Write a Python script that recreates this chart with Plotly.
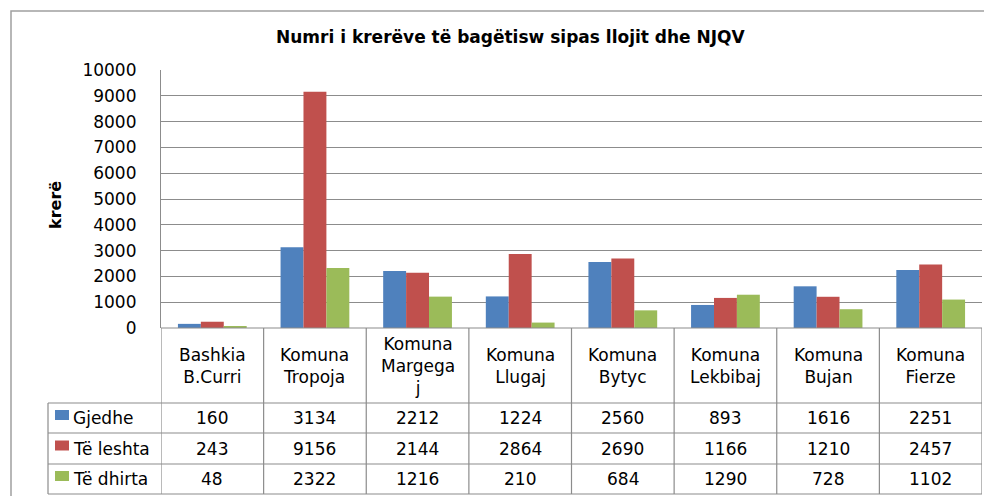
import plotly.graph_objects as go

categories = ["Bashkia<br>B.Curri", "Komuna<br>Tropoja", "Komuna<br>Margega<br>j", "Komuna<br>Llugaj",
              "Komuna<br>Bytyc", "Komuna<br>Lekbibaj", "Komuna<br>Bujan", "Komuna<br>Fierze"]
series_names = ["Gjedhe", "Të leshta", "Të dhirta"]
gjedhe = [160, 3134, 2212, 1224, 2560, 893, 1616, 2251]
te_leshta = [243, 9156, 2144, 2864, 2690, 1166, 1210, 2457]
te_dhirta = [48, 2322, 1216, 210, 684, 1290, 728, 1102]
colors = ["#4F81BD", "#C0504D", "#9BBB59"]
y_ticks = [0, 1000, 2000, 3000, 4000, 5000, 6000, 7000, 8000, 9000, 10000]

OFF = 8  # page body margin
W, H = 992 - OFF, 496 - OFF
L, R, T, B = 161, 982, 70, 328  # plot area in page px

def px(x):
    return (x - L) / (R - L)

def py(y):
    return (B - y) / (B - T)

fig = go.Figure()
series = [gjedhe, te_leshta, te_dhirta]
xs = list(range(len(categories)))
for name, vals, col in zip(series_names, series, colors):
    fig.add_trace(go.Bar(x=xs, y=vals, name=name, marker=dict(color=col, line=dict(width=0)),
                         showlegend=False))

fnt = "DejaVu Sans"
FS = 17
shapes = []
ann = []
gray = "#8C8C8C"
# outer frame
shapes.append(dict(type="rect", xref="paper", yref="paper", x0=px(11), x1=px(1100), y0=py(11), y1=py(600),
                   line=dict(color="#A0A0A0", width=1.5), layer="below"))

rows_y = [328, 403, 433, 464, 494]
n = len(categories)
for i, yy in enumerate(rows_y):
    shapes.append(dict(type="line", xref="paper", yref="paper",
                       x0=px(48) if i >= 1 else 0, x1=1, y0=py(yy), y1=py(yy),
                       line=dict(color=gray, width=1.2)))
for k in range(n + 1):
    shapes.append(dict(type="line", xref="x", yref="paper", x0=k - 0.5, x1=k - 0.5,
                       y0=py(328), y1=py(494), line=dict(color=gray, width=1.2)))
shapes.append(dict(type="line", xref="paper", yref="paper", x0=px(48), x1=px(48),
                   y0=py(403), y1=py(494), line=dict(color=gray, width=1.2)))

for k, c in enumerate(categories):
    ann.append(dict(x=k, y=py(366), xref="x", yref="paper", text=c, showarrow=False,
                    font=dict(family=fnt, size=FS, color="#000"), align="center", yanchor="middle"))
for r, (name, vals, col) in enumerate(zip(series_names, series, colors)):
    yc = (rows_y[r + 1] + rows_y[r + 2]) / 2
    shapes.append(dict(type="rect", xref="paper", yref="paper", x0=px(55), x1=px(69),
                       y0=py(yc - 8), y1=py(yc + 2), fillcolor=col, line=dict(width=0)))
    ann.append(dict(x=px(71), y=py(yc), xref="paper", yref="paper", text=name, showarrow=False,
                    xanchor="left", yanchor="middle", font=dict(family=fnt, size=FS, color="#000")))
    for k, v in enumerate(vals):
        ann.append(dict(x=k, y=py(yc), xref="x", yref="paper", text=str(v), showarrow=False,
                        yanchor="middle", font=dict(family=fnt, size=FS, color="#000")))

ann.append(dict(x=px(511), y=py(37), xref="paper", yref="paper",
                text="<b>Numri i krerëve të bagëtisw sipas llojit dhe NJQV</b>", showarrow=False,
                xanchor="center", yanchor="middle", font=dict(family="DejaVu Sans", size=17, color="#000")))
ann.append(dict(x=px(55), y=py(205), xref="paper", yref="paper", text="<b>krerë</b>", textangle=-90,
                showarrow=False, xanchor="center", yanchor="middle",
                font=dict(family="DejaVu Sans", size=16, color="#000")))

fig.update_layout(
    width=W, height=H,
    margin=dict(l=L - OFF, r=W - (R - OFF), t=T - OFF, b=H - (B - OFF), pad=0),
    paper_bgcolor="white", plot_bgcolor="white",
    barmode="group", bargap=0.33, bargroupgap=0,
    xaxis=dict(range=[-0.5, n - 0.5], showticklabels=False, showgrid=False, zeroline=False,
               showline=False, ticks="", fixedrange=True),
    yaxis=dict(range=[0, 10000], tickvals=y_ticks, ticktext=[str(t) for t in y_ticks],
               showgrid=True, gridcolor=gray, gridwidth=1, zeroline=False,
               showline=True, linecolor=gray, linewidth=1.2, ticks="", ticklabelstandoff=20,
               tickfont=dict(family=fnt, size=FS, color="#000")),
    shapes=shapes, annotations=ann, font=dict(family=fnt),
)
fig.write_html("out.html")
